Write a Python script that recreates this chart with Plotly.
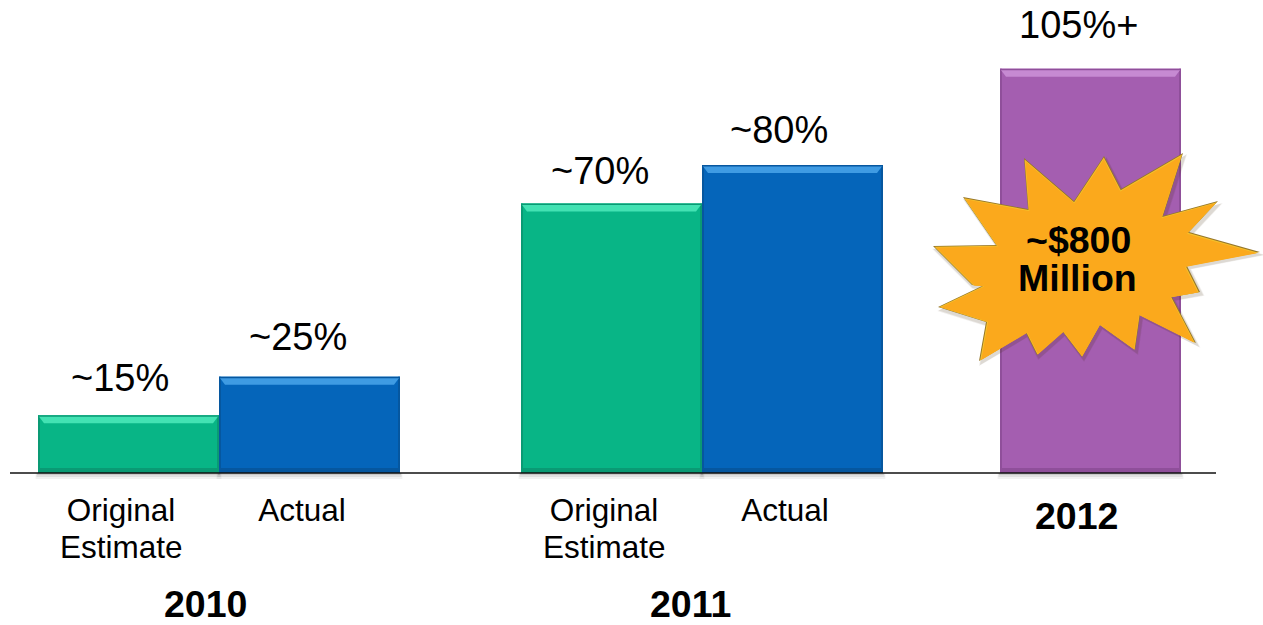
import plotly.graph_objects as go

# Chart data
bar_names = ["2010 Original Estimate", "2010 Actual", "2011 Original Estimate", "2011 Actual", "2012"]
bar_values = [15, 25, 70, 80, 105]
value_labels = ["~15%", "~25%", "~70%", "~80%", "105%+"]
tick_labels = ["Original", "Actual", "Original", "Actual"]
second_line_labels = ["Estimate", "Estimate"]
year_labels = ["2010", "2011", "2012"]
burst_labels = ["~$800", "Million"]

# Page geometry, in pixels
W, H = 1263, 625
BASE_PX = 473
PX_PER_UNIT = 3.85
FONT = "Liberation Sans"

# Bar placement and colours
BAR_WIDTH = 181
bar_lefts = [38, 219, 521, 702, 1000]
bar_colors = ["#08B586", "#0565BA", "#08B586", "#0565BA", "#A45EB0"]
bar_tops = ["#43E2B3", "#3F9BE3", "#43E2B3", "#3F9BE3", "#C68AD2"]
bar_rims = ["#0A9A74", "#06579F", "#0A9A74", "#06579F", "#8F4F9A"]

# Text placement
label_x = [120, 298, 600, 779, 1078]
label_y = [378, 337, 171, 130, 25]
tick_x = [121, 302, 604, 785]
second_line_x = [121, 604]
year_pos = [(205, 603.5), (690, 603.5), (1076, 516)]
burst_text_pos = [(1078, 240), (1077, 278)]

# Outline of the starburst callout
burst_outline = [
    (1024, 158), (1074, 201), (1104, 156), (1121, 189), (1183, 153), (1163, 216),
    (1218, 201), (1189, 232), (1260, 252), (1187, 266), (1200, 292), (1172, 297),
    (1196, 343), (1140, 315), (1135, 350), (1100, 325), (1082, 357), (1063, 332),
    (1037, 355), (1026, 333), (979, 361), (986, 322), (938, 307), (982, 286),
    (972, 285), (933, 246), (996, 245), (963, 197), (1028, 209),
]


def y_from_px(py):
    return (BASE_PX - py) / PX_PER_UNIT


def rect(x0, x1, y0, y1, color, yref="y"):
    return dict(type="rect", xref="x", yref=yref, x0=x0, x1=x1, y0=y0, y1=y1,
                fillcolor=color, line_width=0, layer="above")


def polygon(points, fill, line=None, width=0):
    path = "M" + " L".join(f"{x:.1f},{y_from_px(py):.3f}" for x, py in points) + " Z"
    return dict(type="path", xref="x", yref="y", path=path, fillcolor=fill,
                line=dict(color=line or "rgba(0,0,0,0)", width=width), layer="above")


def scaled(points, k, dx=0.0, dy=0.0):
    cx, cy = 1078, 255
    return [(cx + (x - cx) * k + dx, cy + (y - cy) * k + dy) for x, y in points]


shapes = []

# Soft shadow under and beside each bar, in paper coordinates below the baseline
for left in bar_lefts:
    for grow, alpha in ((6, 0.05), (4, 0.07), (2, 0.10)):
        shapes.append(dict(type="rect", xref="x", yref="paper",
                           x0=left - grow * 0.4, x1=left + BAR_WIDTH + grow * 0.4,
                           y0=1 - (BASE_PX + grow) / H, y1=1 - BASE_PX / H,
                           fillcolor=f"rgba(0,0,0,{alpha})", line_width=0, layer="below"))

# Bevel on each bar, derived from its value
for left, value, top, rim in zip(bar_lefts, bar_values, bar_tops, bar_rims):
    right = left + BAR_WIDTH
    u = 1 / PX_PER_UNIT
    shapes.append(rect(left, left + 2, 0, value, rim))
    shapes.append(rect(right - 2, right, 0, value, rim))
    shapes.append(rect(left, right, 0, 5 * u, rim))
    strip = (f"M{left},{value} L{right},{value} L{right - 6},{value - 8 * u} "
             f"L{left + 6},{value - 8 * u} Z")
    shapes.append(dict(type="path", xref="x", yref="y", path=strip, fillcolor=top,
                       line_width=0, layer="above"))
    shapes.append(rect(left, right, value - 1.5 * u, value, rim))

# Starburst: drop shadow, brown rim, yellow highlight on the upper edges, orange face
for k, alpha in ((1.02, 0.08), (1.01, 0.10)):
    shapes.append(polygon(scaled(burst_outline, k, 2, 3), f"rgba(60,40,0,{alpha})"))
shapes.append(polygon(burst_outline, "#96762A"))
shapes.append(polygon(scaled(burst_outline, 0.99, 0.1, 0.6), "#F5C22C"))
shapes.append(polygon(scaled(burst_outline, 0.98, 0.3, 1.2), "#FBA91C"))

# Baseline
shapes.append(dict(type="line", xref="x", yref="paper", x0=10, x1=1216,
                   y0=1 - BASE_PX / H, y1=1 - BASE_PX / H,
                   line=dict(color="#111111", width=1.5), layer="above"))

annotations = []


def add_text(x, py, text, size, bold=False):
    annotations.append(dict(
        x=x, y=1 - py / H, xref="x", yref="paper", xanchor="center", yanchor="middle",
        text=f"<b>{text}</b>" if bold else text, showarrow=False,
        font=dict(family=FONT, size=size, color="#000000"),
    ))


for x, py, text in zip(label_x, label_y, value_labels):
    add_text(x, py, text, 38)
for x, text in zip(second_line_x, second_line_labels):
    add_text(x, 547, text, 31.5)
for (x, py), text in zip(year_pos, year_labels):
    add_text(x, py, text, 37.5, bold=True)
for (x, py), text in zip(burst_text_pos, burst_labels):
    add_text(x, py, text, 37.5, bold=True)

fig = go.Figure(go.Bar(
    x=[left + BAR_WIDTH / 2 for left in bar_lefts],
    y=bar_values,
    width=BAR_WIDTH,
    customdata=bar_names,
    marker=dict(color=bar_colors, line_width=0),
    hovertemplate="%{customdata}: %{y}%<extra></extra>",
))

fig.update_layout(
    width=W, height=H,
    margin=dict(l=0, r=0, t=0, b=0),
    paper_bgcolor="#FFFFFF", plot_bgcolor="rgba(0,0,0,0)",
    showlegend=False,
    shapes=shapes,
    annotations=annotations,
    xaxis=dict(range=[0, W], domain=[0, 1], tickmode="array", tickvals=tick_x,
               ticktext=tick_labels, ticks="", showgrid=False, zeroline=False,
               showline=False, ticklabelstandoff=15,
               tickfont=dict(family=FONT, size=31.5, color="#000000")),
    yaxis=dict(range=[0, BASE_PX / PX_PER_UNIT], domain=[1 - BASE_PX / H, 1],
               visible=False, showgrid=False, zeroline=False),
)

fig.write_html("out.html", config={"displayModeBar": False})
